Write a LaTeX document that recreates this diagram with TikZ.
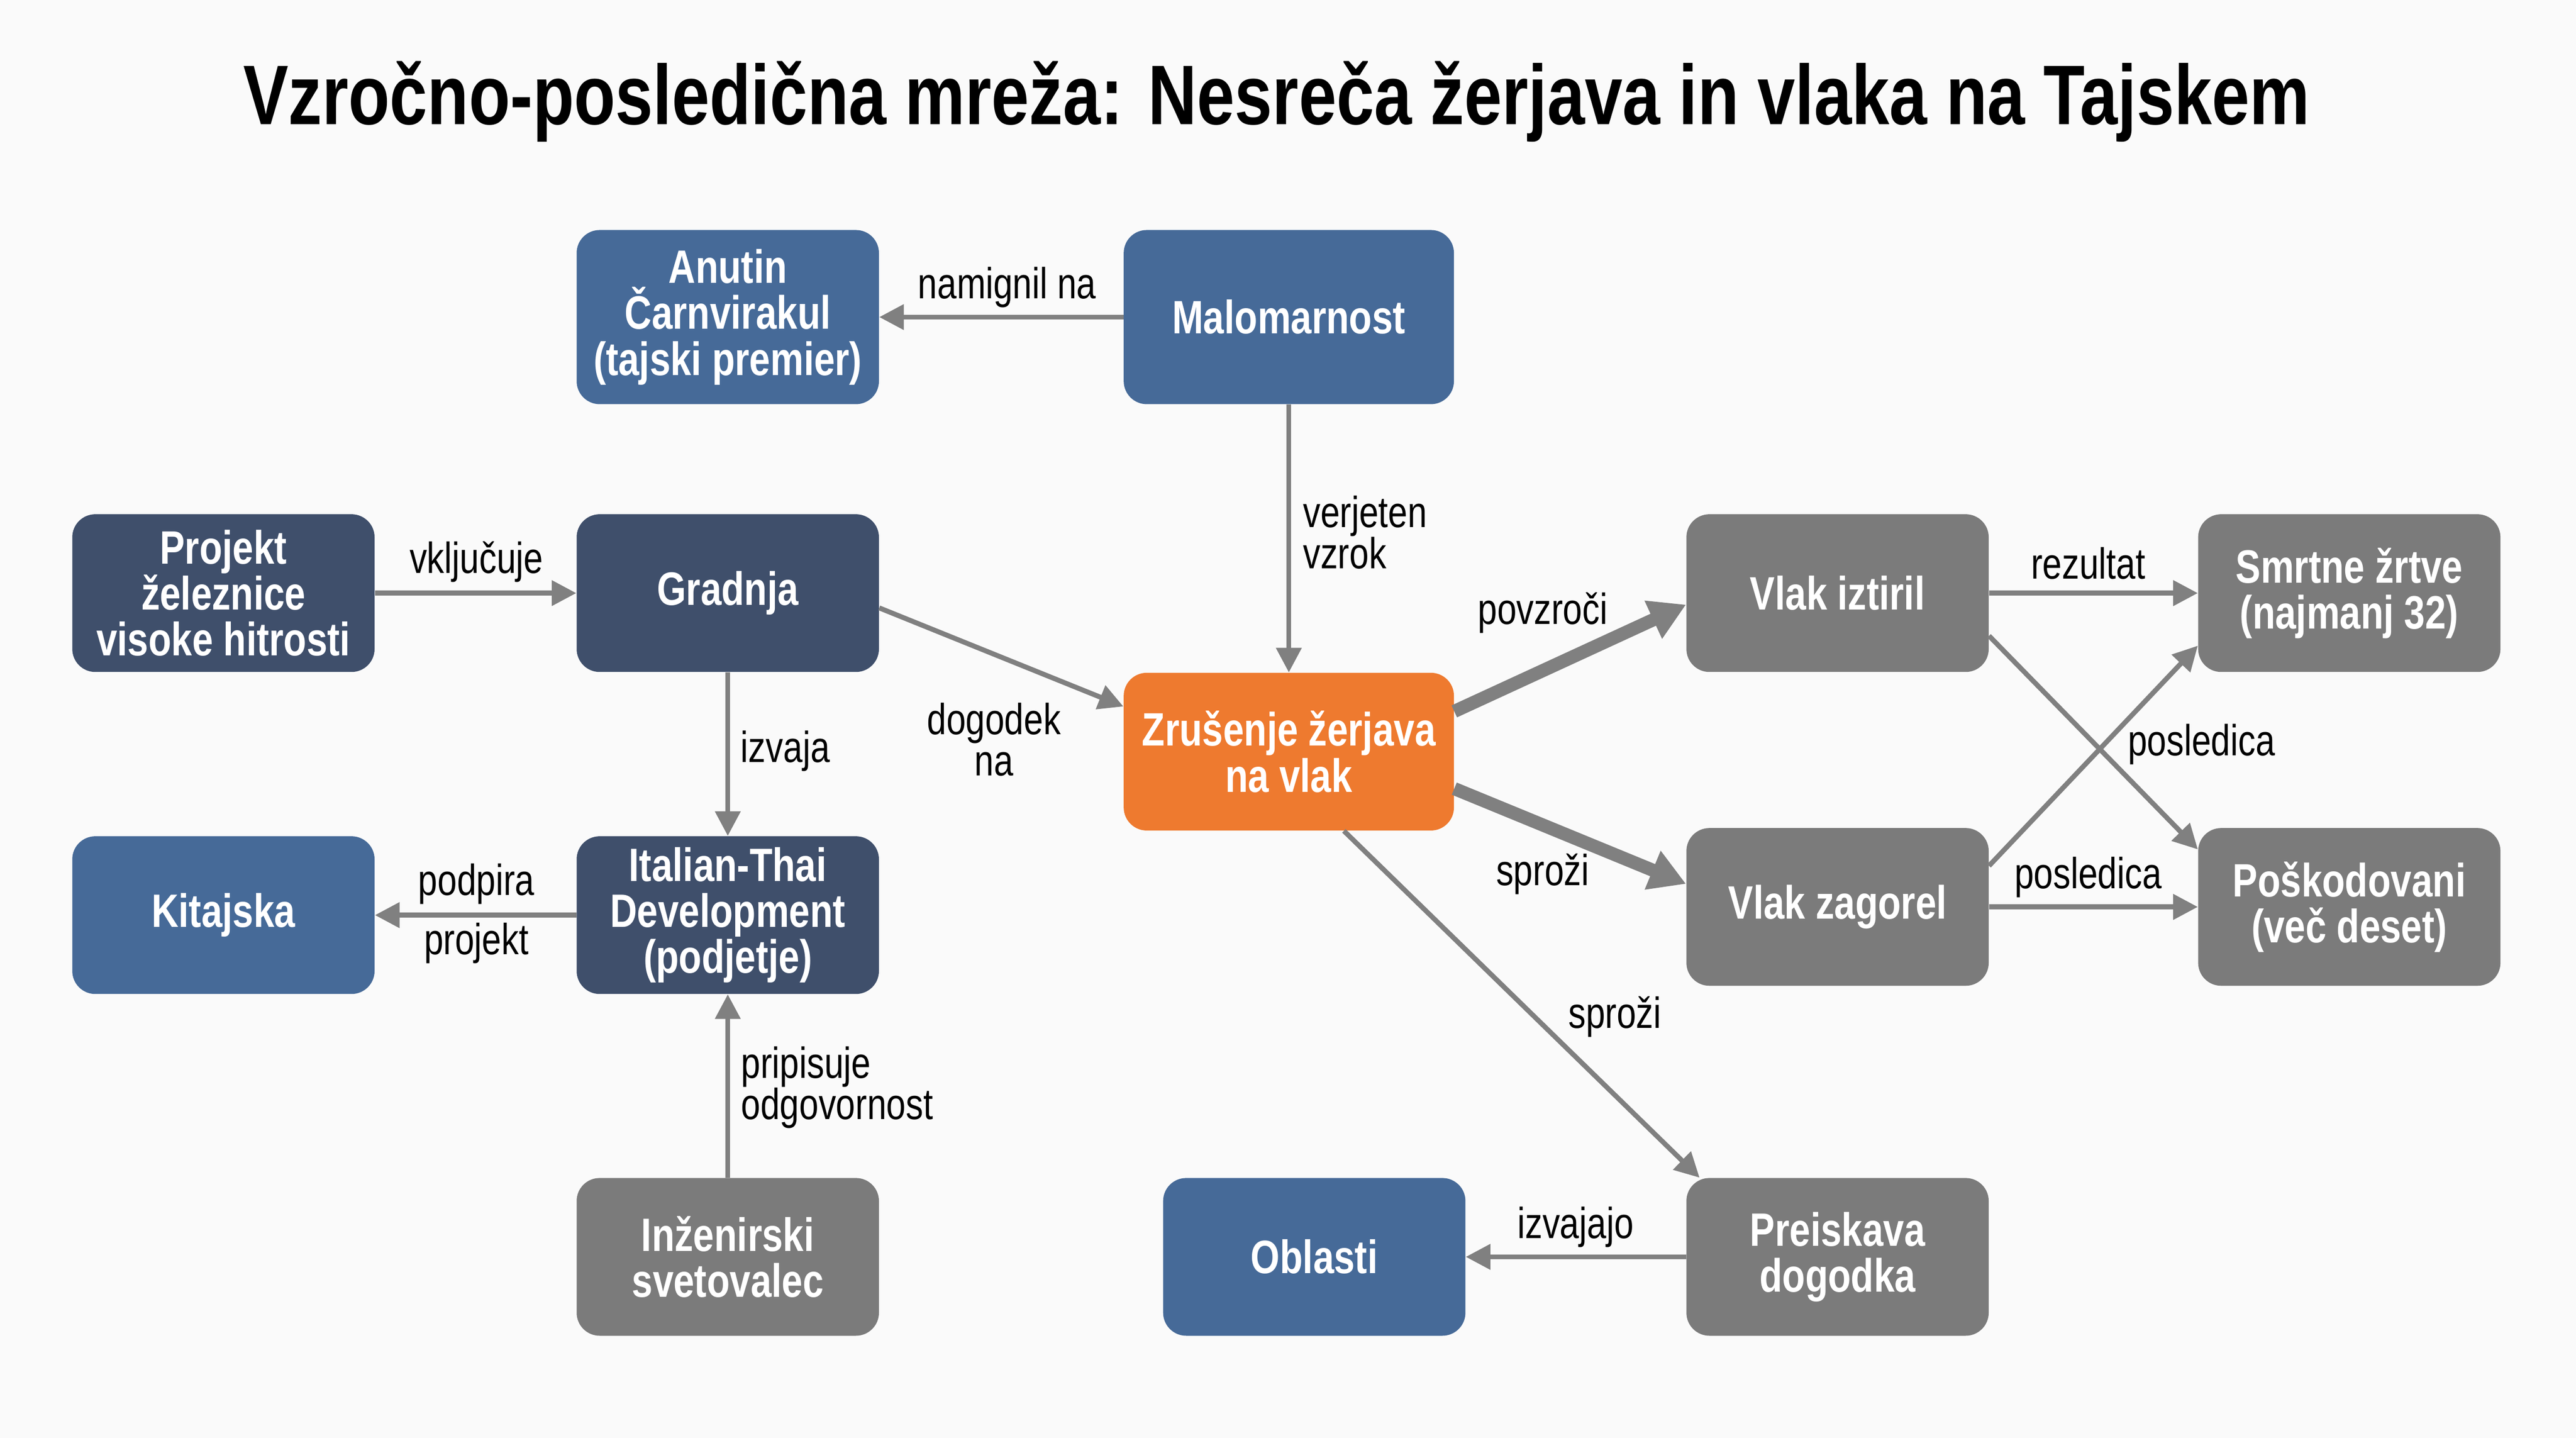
\documentclass[tikz,border=0pt]{standalone}
\usepackage{fontspec}
\setmainfont{Liberation Sans}[FakeStretch=0.8]
\usetikzlibrary{arrows.meta}
\definecolor{bgc}{HTML}{FAFAFA}
\definecolor{nblue}{HTML}{466A98}
\definecolor{ndark}{HTML}{3F4F6B}
\definecolor{ngray}{HTML}{7B7B7B}
\definecolor{norange}{HTML}{EE7A2F}
\definecolor{agray}{HTML}{808080}
\tikzset{
  box/.style={rounded corners=14pt, minimum width=184pt, minimum height=96pt, inner sep=0pt,
    text=white, align=center, font=\bfseries\fontsize{28.5}{28}\selectfont},
  bluebox/.style={box, fill=nblue},
  darkbox/.style={box, fill=ndark},
  graybox/.style={box, fill=ngray},
  orangebox/.style={box, fill=norange, minimum width=201pt},
  conn/.style={draw=agray, line width=3pt, -{Triangle[length=15pt,width=15pt]}},
  thickconn/.style={draw=agray, line width=8pt, -{Triangle[length=22pt,width=24pt]}},
  lbl/.style={inner sep=0pt, align=center, text=black, font=\fontsize{26.5}{25}\selectfont},
}
\begin{document}
\begin{tikzpicture}[x=1pt,y=-1pt]
\fill[bgc] (0,0) rectangle (1568,875.16);
\useasboundingbox (0,0) rectangle (1568,875.16);

\node[inner sep=0pt, font=\bfseries\fontsize{51.5}{52}\selectfont] (title) at (777,62) {Vzročno-posledična mreža: Nesreča žerjava in vlaka na Tajskem};

\node[bluebox, minimum height=106pt] (an) at (443,193) {Anutin\\Čarnvirakul\\(tajski premier)};
\node[bluebox, minimum width=201pt, minimum height=106pt] (ma) at (784.5,193) {Malomarnost};
\node[darkbox] (pr) at (136,361) {Projekt\\železnice\\visoke hitrosti};
\node[darkbox] (gr) at (443,361) {Gradnja};
\node[bluebox] (ki) at (136,557) {Kitajska};
\node[darkbox] (it) at (443,557) {Italian-Thai\\Development\\(podjetje)};
\node[graybox] (in) at (443,765) {Inženirski\\svetovalec};
\node[orangebox] (zr) at (784.5,457.5) {Zrušenje žerjava\\na vlak};
\node[graybox] (vi) at (1118.5,361) {Vlak iztiril};
\node[graybox] (vz) at (1118.5,552) {Vlak zagorel};
\node[graybox] (sm) at (1430,361) {Smrtne žrtve\\(najmanj 32)};
\node[graybox] (po) at (1430,552) {Poškodovani\\(več deset)};
\node[bluebox] (ob) at (800,765) {Oblasti};
\node[graybox] (pk) at (1118.5,765) {Preiskava\\dogodka};

\draw[conn] (ma) -- (an);
\draw[conn] (ma) -- (zr);
\draw[conn] (pr) -- (gr);
\draw[conn] ([yshift=-9pt]gr.east) -- ([yshift=27.5pt]zr.west);
\draw[conn] (gr) -- (it);
\draw[conn] (it) -- (ki);
\draw[conn] (in) -- (it);
\draw[thickconn] ([yshift=24.5pt]zr.east) -- ([yshift=-7pt]vi.west);
\draw[thickconn] ([yshift=-22.5pt]zr.east) -- ([yshift=14pt]vz.west);
\draw[conn] ([xshift=33.5pt]zr.south) -- ([xshift=-84pt]pk.north);
\draw[conn] (vi) -- (sm);
\draw[conn] ([yshift=-26pt]vi.east) -- ([yshift=35pt]po.west);
\draw[conn] ([yshift=25pt]vz.east) -- ([yshift=-32pt]sm.west);
\draw[conn] (vz) -- (po);
\draw[conn] (pk) -- (ob);

\node[lbl] (l1) at (613,175) {namignil na};
\node[lbl, anchor=west, align=left] (l2) at (793,324) {verjeten\\vzrok};
\node[lbl] (l3) at (290,342) {vključuje};
\node[lbl] (l4) at (605,450) {dogodek\\na};
\node[lbl] (l5) at (478,457) {izvaja};
\node[lbl] (l6) at (290,538) {podpira};
\node[lbl] (l7) at (290,574) {projekt};
\node[lbl, anchor=west, align=left] (l8) at (451,662) {pripisuje\\odgovornost};
\node[lbl] (l9) at (939,373) {povzroči};
\node[lbl] (l10) at (939,532) {sproži};
\node[lbl] (l11) at (983,619) {sproži};
\node[lbl] (l12) at (1271,343) {rezultat};
\node[lbl] (l13) at (1340,453) {posledica};
\node[lbl] (l14) at (1271,534) {posledica};
\node[lbl] (l15) at (959,747) {izvajajo};
\end{tikzpicture}
\end{document}
